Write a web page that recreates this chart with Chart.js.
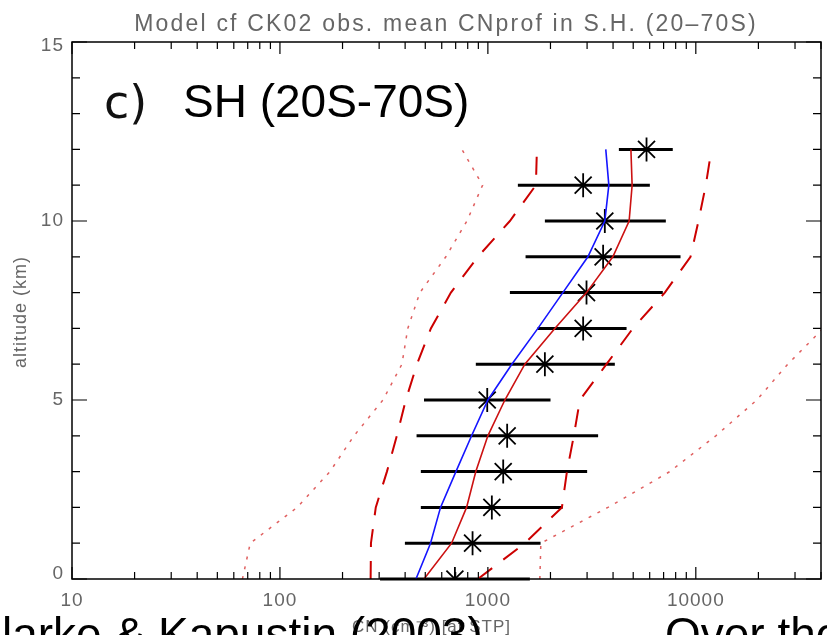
<!DOCTYPE html>
<html>
<head>
<meta charset="utf-8">
<script src="https://cdn.jsdelivr.net/npm/chart.js@4.4.1/dist/chart.umd.min.js"></script>
<style>
  body { margin: 0; background: #fff; }
  canvas { display: block; }
</style>
</head>
<body>
<canvas id="myChart" width="827" height="635"></canvas>
<script>
// altitude levels (km)
const altitudes = [0, 1, 2, 3, 4, 5, 6, 7, 8, 9, 10, 11, 12];

// CK02 observations: mean and range (cm-3)
const obsMean = [694, 844, 1045, 1185, 1238, 993, 1880, 2872, 2981, 3583, 3651, 2872, 5794];
const obsLow = [303, 399, 476, 476, 454, 493, 875, 1734, 1276, 1518, 1880, 1394, 4266];
const obsHigh = [1592, 1792, 2286, 3002, 3390, 2001, 4079, 4645, 6939, 8443, 7175, 6011, 7748];

// model profiles
const blueModel = [451, 530, 592, 702, 835, 1000, 1304, 1740, 2294, 3027, 3651, 3817, 3690];
const redMean = [493, 669, 790, 875, 1000, 1207, 1506, 2099, 2981, 3990, 4779, 4940, 4874];
const redDashLow = [273, 274, 289, 327, 365, 403, 456, 532, 664, 895, 1276, 1702, 1721];
const redDashHigh = [895, 1506, 2270, 2400, 2590, 2770, 3720, 4980, 7096, 9430, 10300, 11170, 11890];
const redDotLow = [66, 72, 121, 174, 227, 313, 386, 412, 471, 628, 793, 943, 750];
const redDotHigh = [1778, 1798, 3776, 7499, 12480, 19650, 27680, 41000];

const xTicks = [10, 100, 1000, 10000];
const yTicks = [0, 5, 10, 15];

function pts(vals) {
  return vals.map((v, i) => ({ x: v, y: altitudes[i] }));
}

function lineSet(label, vals, color, width, dash) {
  return {
    label: label,
    data: pts(vals),
    showLine: true,
    borderColor: color,
    borderWidth: width,
    borderDash: dash,
    pointRadius: 0,
    fill: false,
  };
}

const grey = "#666";

const frame = {
  id: "frame",
  beforeDatasetsDraw(chart) {
    const ctx = chart.ctx;
    const x = chart.scales.x, y = chart.scales.y;
    ctx.save();
    ctx.strokeStyle = "#000";
    ctx.lineWidth = 3;
    for (let i = 0; i < altitudes.length; i++) {
      const py = y.getPixelForValue(altitudes[i]);
      ctx.beginPath();
      ctx.moveTo(x.getPixelForValue(obsLow[i]), py);
      ctx.lineTo(x.getPixelForValue(obsHigh[i]), py);
      ctx.stroke();
    }
    ctx.restore();
  },
  afterDraw(chart) {
    const ctx = chart.ctx;
    const a = chart.chartArea;
    const x = chart.scales.x, y = chart.scales.y;
    ctx.save();
    ctx.strokeStyle = "#000";
    ctx.lineWidth = 1.5;
    ctx.strokeRect(a.left, a.top, a.right - a.left, a.bottom - a.top);

    // inward ticks, x axis (log)
    ctx.lineWidth = 1.2;
    for (let d = 10; d <= 10000; d *= 10) {
      for (let m = 1; m <= 9; m++) {
        const v = d * m;
        if (v > 40000) break;
        const px = x.getPixelForValue(v);
        const len = m === 1 ? 12 : 7;
        ctx.beginPath();
        ctx.moveTo(px, a.bottom);
        ctx.lineTo(px, a.bottom - len);
        ctx.moveTo(px, a.top);
        ctx.lineTo(px, a.top + len);
        ctx.stroke();
      }
    }
    // inward ticks, y axis
    for (let k = 0; k <= 15; k++) {
      const py = y.getPixelForValue(k);
      const len = k % 5 === 0 ? 15 : 8;
      ctx.beginPath();
      ctx.moveTo(a.left, py);
      ctx.lineTo(a.left + len, py);
      ctx.moveTo(a.right, py);
      ctx.lineTo(a.right - len, py);
      ctx.stroke();
    }

    // tick labels
    ctx.fillStyle = grey;
    ctx.font = "19px 'Liberation Sans'";
    ctx.letterSpacing = "1px";
    ctx.textBaseline = "middle";
    ctx.textAlign = "center";
    xTicks.forEach(v => ctx.fillText(String(v), x.getPixelForValue(v), 601));
    ctx.textAlign = "right";
    yTicks.forEach(v => ctx.fillText(String(v), 64, y.getPixelForValue(v) - (v === 0 ? 5 : 0) + (v === 15 ? 4 : 0)));

    // axis titles
    ctx.font = "18px 'Liberation Sans'";
    ctx.save();
    ctx.translate(21, 312);
    ctx.rotate(-Math.PI / 2);
    ctx.textAlign = "center";
    ctx.fillText("altitude (km)", 0, 0);
    ctx.restore();
    ctx.font = "17px 'Liberation Sans'";
    ctx.textAlign = "left";
    ctx.textBaseline = "alphabetic";
    ctx.fillText("CN (cm\u207B\u00B3) [at STP]", 352, 632);

    // title
    ctx.font = "23px 'Liberation Sans'";
    ctx.letterSpacing = "2.2px";
    ctx.textAlign = "center";
    ctx.fillText("Model cf CK02 obs. mean CNprof in S.H. (20\u201370S)", 446, 31);

    // panel label
    ctx.letterSpacing = "0px";
    ctx.fillStyle = "#111";
    ctx.textAlign = "left";
    ctx.font = "46px 'DejaVu Sans'";
    ctx.fillText("c)", 104, 118);
    ctx.fillStyle = "#000";
    ctx.font = "46px 'Liberation Sans'";
    ctx.fillText("SH (20S-70S)", 183, 117);

    // slide text underneath the figure
    ctx.font = "46px 'Liberation Sans'";
    const cw = ctx.measureText("C").width;
    ctx.fillText("Clarke & Kapustin (2003)", -cw + 2, 650);
    ctx.fillText("Over the", 665, 650);
    ctx.restore();
  },
};

new Chart("myChart", {
  type: "scatter",
  data: {
    datasets: [
      lineSet("dotted low", redDotLow, "#e06060", 1.5, [3, 7]),
      lineSet("dotted high", redDotHigh, "#e06060", 1.5, [3, 7]),
      lineSet("dashed low", redDashLow, "#cc0000", 2, [18, 14]),
      lineSet("dashed high", redDashHigh, "#cc0000", 2, [18, 14]),
      lineSet("model red", redMean, "#cc1111", 1.6, []),
      lineSet("model blue", blueModel, "#1515ff", 1.6, []),
      {
        label: "CK02 obs",
        data: pts(obsMean),
        pointStyle: "star",
        pointRadius: 12,
        borderColor: "#000",
        pointBorderWidth: 1.8,
        backgroundColor: "#000",
      },
    ],
  },
  options: {
    responsive: false,
    devicePixelRatio: 1,
    animation: false,
    layout: { autoPadding: false, padding: { left: 72, right: 6, top: 42, bottom: 56 } },
    plugins: {
      legend: { display: false },
      tooltip: { enabled: false },
      title: { display: false },
    },
    scales: {
      x: { type: "logarithmic", min: 10, max: 40000, display: false },
      y: { type: "linear", min: 0, max: 15, display: false },
    },
  },
  plugins: [frame],
});
</script>
</body>
</html>
